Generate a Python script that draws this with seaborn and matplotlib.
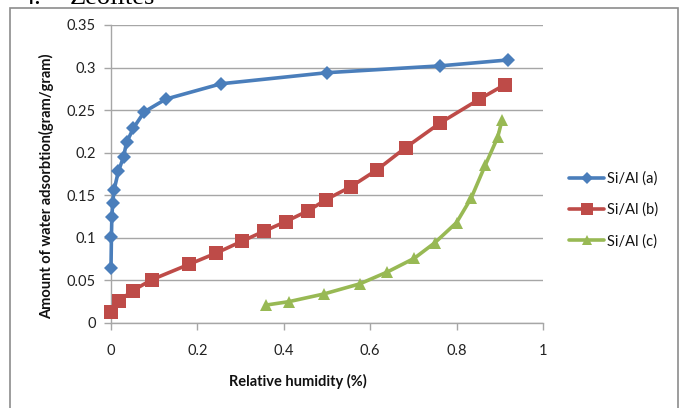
import matplotlib
matplotlib.use("Agg")
import matplotlib.pyplot as plt
import seaborn as sns
import pandas as pd
from matplotlib.patches import Rectangle

# Relative humidity (fraction) and water uptake (gram/gram) for each Si/Al ratio
rh_a = [0.000, 0.001, 0.002, 0.004, 0.007, 0.017, 0.029, 0.036, 0.052, 0.077,
        0.127, 0.255, 0.500, 0.762, 0.920]
uptake_a = [0.065, 0.101, 0.125, 0.141, 0.156, 0.178, 0.195, 0.212, 0.229, 0.248,
            0.263, 0.281, 0.294, 0.302, 0.309]

rh_b = [0.001, 0.019, 0.050, 0.095, 0.181, 0.243, 0.303, 0.355, 0.404, 0.457,
        0.498, 0.555, 0.616, 0.682, 0.762, 0.853, 0.912]
uptake_b = [0.013, 0.026, 0.038, 0.051, 0.069, 0.082, 0.096, 0.108, 0.119, 0.132,
            0.145, 0.160, 0.180, 0.206, 0.235, 0.263, 0.280]

rh_c = [0.358, 0.411, 0.492, 0.576, 0.640, 0.702, 0.749, 0.800, 0.834, 0.866,
        0.895, 0.905]
uptake_c = [0.021, 0.025, 0.034, 0.046, 0.060, 0.076, 0.094, 0.118, 0.147, 0.185,
            0.218, 0.238]

series_labels = ["Si/Al (a)", "Si/Al (b)", "Si/Al (c)"]
x_ticks = [0, 0.2, 0.4, 0.6, 0.8, 1]
x_tick_labels = ["0", "0.2", "0.4", "0.6", "0.8", "1"]
y_ticks = [0, 0.05, 0.1, 0.15, 0.2, 0.25, 0.3, 0.35]
y_tick_labels = ["0", "0.05", "0.1", "0.15", "0.2", "0.25", "0.3", "0.35"]

sns.set_theme(style="white")
plt.rcParams["font.family"] = ["Lato", "DejaVu Sans"]

W, H = 685, 408
fig = plt.figure(figsize=(W / 100, H / 100), dpi=100)
ax = fig.add_axes([111 / W, 1 - 323 / H, (543 - 111) / W, (323 - 25) / H])

colors = ["#4A7EBB", "#BE4B48", "#98B954"]
markers = ["D", "s", "^"]
msizes = [7, 9.5, 9]
data = [(rh_a, uptake_a), (rh_b, uptake_b), (rh_c, uptake_c)]

for (xs, ys), lab, col, mk, ms in zip(data, series_labels, colors, markers, msizes):
    df = pd.DataFrame({"rh": xs, "uptake": ys})
    sns.lineplot(data=df, x="rh", y="uptake", ax=ax, sort=False, color=col,
                 marker=mk, markersize=ms, markeredgewidth=0, linewidth=2.6,
                 label=lab, zorder=3)

# markers sitting on the y-axis should stay whole
for ln in ax.lines:
    ln.set_clip_on(False)

ax.set_xlim(0, 1)
ax.set_ylim(0, 0.35)
ax.set_xticks(x_ticks)
ax.set_xticklabels(x_tick_labels)
ax.set_yticks(y_ticks)
ax.set_yticklabels(y_tick_labels)

grid_col = "#A6A6A6"
ax.grid(axis="y", color=grid_col, linewidth=1)
ax.grid(axis="x", visible=False)
for side in ["top", "right"]:
    ax.spines[side].set_visible(False)
for side in ["left", "bottom"]:
    ax.spines[side].set_color(grid_col)
    ax.spines[side].set_linewidth(1)
ax.tick_params(axis="both", which="major", length=5, width=1, color=grid_col,
               labelsize=10.5, labelcolor="#222222", direction="out")
ax.tick_params(axis="y", pad=6, left=True)
ax.tick_params(axis="x", pad=10, bottom=True)
ax.set_axisbelow(True)

ax.set_xlabel("")
ax.set_ylabel("")
fig.text(298 / W, 1 - 381 / H, "Relative humidity (%)", ha="center", va="center",
         fontsize=10.5, fontweight="bold", color="#111111")
fig.text(47 / W, 1 - 186 / H, "Amount of water adsorbtion(gram/gram)", ha="center",
         va="center", rotation=90, fontsize=10.5, fontweight="bold", color="#111111")

leg = ax.legend(loc="center left", bbox_to_anchor=(556 / W, 1 - 210 / H),
                bbox_transform=fig.transFigure, frameon=False, fontsize=10.5,
                handlelength=2.4, handletextpad=0.2, labelspacing=1.15,
                markerscale=0.85)
for t in leg.get_texts():
    t.set_color("#111111")

# Chart frame and section heading above it
fig.patches.append(Rectangle((10 / W, -0.1), (678 - 10) / W, 1.1 - 8 / H,
                             transform=fig.transFigure, fill=False,
                             edgecolor="#8C8C8C", linewidth=1.2))
fig.text(22 / W, 1 - 3.5 / H, "4.", fontsize=19, family="Liberation Serif",
         va="baseline", ha="left", color="black")
fig.text(70 / W, 1 - 3.5 / H, "Zeolites", fontsize=19, family="Liberation Serif",
         va="baseline", ha="left", color="black")

fig.savefig("out.png", dpi=100, facecolor="white")
